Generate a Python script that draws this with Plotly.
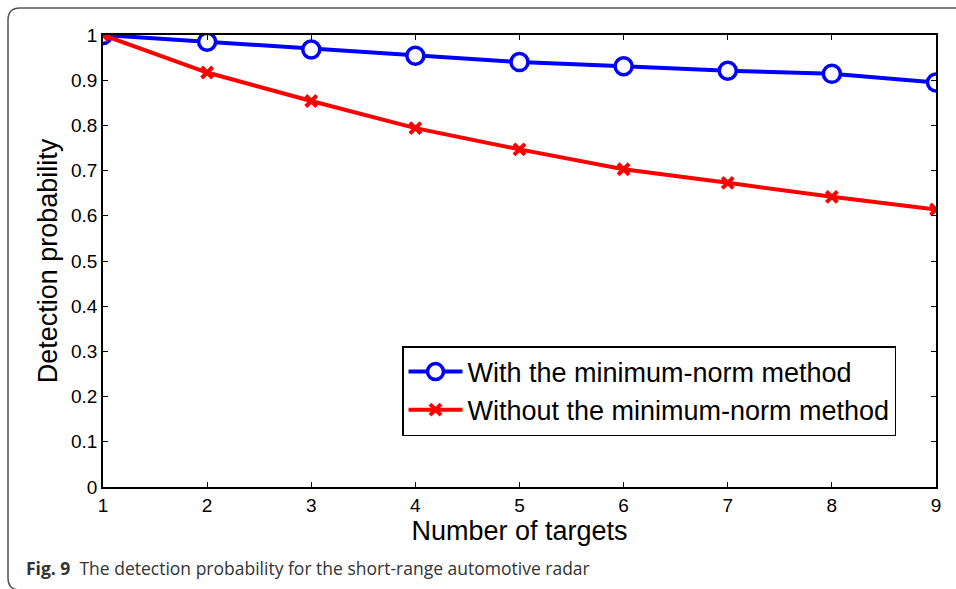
import plotly.graph_objects as go

targets = [1, 2, 3, 4, 5, 6, 7, 8, 9]
with_mn = [1.0, 0.985, 0.968, 0.954, 0.940, 0.931, 0.921, 0.914, 0.895]
without_mn = [1.0, 0.917, 0.854, 0.794, 0.747, 0.703, 0.673, 0.642, 0.614]
x_ticks = [1, 2, 3, 4, 5, 6, 7, 8, 9]
y_ticks = [0, 0.1, 0.2, 0.3, 0.4, 0.5, 0.6, 0.7, 0.8, 0.9, 1]
y_tick_text = ["0", "0.1", "0.2", "0.3", "0.4", "0.5", "0.6", "0.7", "0.8", "0.9", "1"]

W, H = 956, 589
L, R, T, B = 103, 936, 35, 487

def px(x):
    return (x - L) / (R - L)

def py(y):
    return (B - y) / (B - T)

FONT = "Liberation Sans, Arial, Helvetica, sans-serif"

fig = go.Figure()
fig.add_trace(go.Scatter(
    x=targets, y=with_mn, mode="lines+markers",
    name="With the minimum-norm method", legendgroup="a",
    line=dict(color="#0000ff", width=4),
    marker=dict(symbol="circle", size=17, color="white",
                line=dict(color="#0000ff", width=3.5)),
))
fig.add_trace(go.Scatter(
    x=targets, y=without_mn, mode="lines+markers",
    name="Without the minimum-norm method", legendgroup="b",
    line=dict(color="#ff0000", width=4),
    marker=dict(symbol="x-thin", size=11, color="#ff0000",
                line=dict(color="#ff0000", width=4)),
))

axis_common = dict(
    showline=True, linecolor="black", linewidth=1.5, mirror="ticks",
    ticks="inside", ticklen=5, tickwidth=1, tickcolor="black",
    showgrid=False, zeroline=False,
    tickfont=dict(family=FONT, size=19, color="black"),
)

fig.update_xaxes(
    range=[1, 9], tickvals=x_ticks, ticktext=[str(v) for v in x_ticks],
    title=dict(text="Number of targets", font=dict(family=FONT, size=27, color="black"), standoff=2),
    **axis_common,
)
fig.update_yaxes(
    range=[0, 1], tickvals=y_ticks, ticktext=y_tick_text,
    title=dict(text="Detection probability", font=dict(family=FONT, size=27, color="black"), standoff=6),
    **axis_common,
)

frame_path = (
    f"M {px(970)},{py(8)} L {px(20)},{py(8)} "
    f"Q {px(8)},{py(8)} {px(8)},{py(20)} "
    f"L {px(8)},{py(578)} Q {px(8)},{py(590)} {px(20)},{py(590)} "
    f"L {px(970)},{py(590)}"
)

fig.add_shape(type="path", path=frame_path, xref="paper", yref="paper",
              line=dict(color="#555555", width=1.5), layer="below")

fig.add_annotation(
    xref="paper", yref="paper", x=px(24), y=py(568), xanchor="left", yanchor="middle",
    showarrow=False,
    text="<b>Fig. 9</b>  The detection probability for the short-range automotive radar",
    font=dict(family="Open Sans, Noto Sans, sans-serif", size=17.5, color="#333333"),
)

fig.update_layout(
    width=W, height=H,
    margin=dict(l=L, r=W - R, t=T, b=H - B, autoexpand=False),
    paper_bgcolor="white", plot_bgcolor="white",
    showlegend=True,
    legend=dict(
        x=px(402), y=py(346), xanchor="left", yanchor="top",
        bgcolor="white", bordercolor="black", borderwidth=1.5,
        font=dict(family=FONT, size=27, color="black"),
        traceorder="grouped", tracegroupgap=0, itemwidth=54,
    ),
)

fig.write_html("out.html", config={"displayModeBar": False},
               post_script="document.body.style.margin='0';")
